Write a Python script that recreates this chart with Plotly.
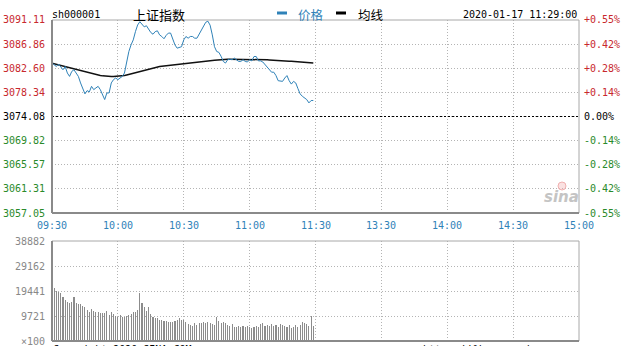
import plotly.graph_objects as go

W, H = 626, 346

# ---------------- data ----------------
tick_times = ["09:30", "10:00", "10:30", "11:00", "11:30", "13:30", "14:00", "14:30", "15:00"]
tick_minutes = [0, 30, 60, 90, 120, 150, 180, 210, 240]
price_ticks = [3091.11, 3086.86, 3082.60, 3078.34, 3074.08, 3069.82, 3065.57, 3061.31, 3057.05]
pct_ticks = ["+0.55%", "+0.42%", "+0.28%", "+0.14%", "0.00%", "-0.14%", "-0.28%", "-0.42%", "-0.55%"]
vol_ticks = [38882, 29162, 19441, 9721, 0]
vol_tick_text = ["38882", "29162", "19441", "9721", "×100"]
prev_close = 3074.08

price = [
    3083.51, 3083.21, 3082.91, 3083.33, 3082.74, 3082.33, 3082.91, 3081.75, 3081.16, 3082.03,
    3082.33, 3081.75, 3081.16, 3080.00, 3079.00, 3078.07, 3078.65, 3078.42, 3079.40, 3078.82,
    3079.12, 3079.40, 3078.82, 3077.94, 3077.07, 3078.24, 3078.24, 3080.00, 3080.58, 3080.87,
    3080.58, 3080.87, 3081.16, 3081.75, 3083.79, 3085.55, 3086.72, 3087.60, 3089.06, 3090.23,
    3090.81, 3090.35, 3089.90, 3090.10, 3089.50, 3088.90, 3088.60, 3089.06, 3089.20, 3088.48,
    3088.20, 3087.80, 3088.40, 3088.80, 3088.80, 3087.80, 3086.70, 3086.14, 3086.30, 3086.40,
    3087.60, 3088.20, 3087.90, 3088.20, 3088.20, 3087.90, 3087.90, 3088.60, 3089.06, 3089.90,
    3090.70, 3090.90, 3090.20, 3088.48, 3086.40, 3085.55, 3085.40, 3084.70, 3083.80, 3083.51,
    3084.09, 3084.20, 3084.10, 3084.38, 3084.10, 3083.80, 3083.80, 3084.10, 3083.80, 3083.70,
    3084.10, 3083.90, 3084.67, 3084.67, 3083.90, 3083.90, 3083.70, 3083.20, 3082.75, 3082.33,
    3081.90, 3081.90, 3081.30, 3080.40, 3080.40, 3080.28, 3080.87, 3081.30, 3080.40, 3079.80,
    3080.28, 3080.00, 3079.00, 3078.07, 3077.65, 3077.36, 3077.07, 3076.48, 3076.90, 3076.90,
]

avg = [
    3083.50, 3083.40, 3083.30, 3083.20, 3083.10, 3083.00, 3082.90, 3082.75, 3082.63, 3082.50,
    3082.40, 3082.30, 3082.20, 3082.10, 3082.00, 3081.90, 3081.80, 3081.70, 3081.60, 3081.50,
    3081.45, 3081.35, 3081.30, 3081.25, 3081.20, 3081.16, 3081.15, 3081.15, 3081.15, 3081.16,
    3081.18, 3081.20, 3081.25, 3081.30, 3081.40, 3081.50, 3081.60, 3081.70, 3081.80, 3081.93,
    3082.05, 3082.20, 3082.30, 3082.40, 3082.50, 3082.60, 3082.65, 3082.75, 3082.80, 3082.90,
    3082.95, 3083.00, 3083.05, 3083.10, 3083.15, 3083.20, 3083.25, 3083.30, 3083.35, 3083.40,
    3083.45, 3083.50, 3083.55, 3083.60, 3083.62, 3083.65, 3083.70, 3083.72, 3083.75, 3083.80,
    3083.85, 3083.90, 3083.93, 3083.97, 3084.00, 3084.05, 3084.08, 3084.10, 3084.13, 3084.15,
    3084.18, 3084.20, 3084.20, 3084.20, 3084.20, 3084.20, 3084.20, 3084.20, 3084.20, 3084.20,
    3084.20, 3084.20, 3084.20, 3084.18, 3084.16, 3084.14, 3084.12, 3084.10, 3084.08, 3084.06,
    3084.05, 3084.03, 3084.01, 3083.99, 3083.96, 3083.93, 3083.90, 3083.87, 3083.85, 3083.82,
    3083.80, 3083.76, 3083.72, 3083.68, 3083.64, 3083.60, 3083.57, 3083.54, 3083.52, 3083.50,
]

volume = [
    23000, 20500, 19400, 18900, 18500, 17200, 15900, 15300, 14600, 15300,
    17200, 14600, 14300, 14300, 13700, 13300, 12000, 11400, 12400, 11700,
    11100, 11400, 10800, 10800, 10800, 11700, 10100, 11100, 10600, 9800,
    9500, 10100, 9500, 9500, 9800, 10100, 10400, 11100, 11100, 12000,
    18500, 14600, 13300, 11700, 13300, 10400, 9500, 9100, 8800, 8200,
    8200, 7800, 7800, 7500, 7500, 7300, 7800, 8200, 8800, 8200,
    8100, 7260, 6480, 6220, 5960, 6870, 6220, 6870, 6870, 7260,
    6870, 7260, 6870, 6480, 6220, 9460, 7780, 6870, 7260, 6870,
    6220, 5960, 6480, 5570, 5570, 5960, 5570, 5960, 5570, 5960,
    5570, 5180, 5570, 5960, 5570, 6480, 6870, 5960, 6220, 5960,
    6480, 5960, 6220, 5570, 6480, 6220, 5960, 5570, 6220, 5180,
    5570, 6220, 5570, 6220, 7520, 7000, 6480, 5960, 9850, 5960,
]

minutes = list(range(len(price)))

# ---------------- helpers ----------------
def px(x):
    return x / W

def py(y):
    return 1 - y / H

X0, X1 = px(52), px(579)
P_BOT, P_TOP = py(213), py(20)
V_BOT, V_TOP = py(341), py(241)

MONO = "DejaVu Sans Mono"
CJK = "Noto Sans CJK SC"
RED, GREEN, BLUE = "#c8282d", "#2a8a2a", "#2f82b8"
GRID = "#b4b4b4"

fig = go.Figure()

fig.add_trace(go.Bar(x=minutes, y=volume, xaxis="x2", yaxis="y2", width=0.5,
                     marker=dict(color="#8c8c8c", line=dict(width=0)), hoverinfo="skip"))
fig.add_trace(go.Scatter(x=minutes, y=avg, mode="lines", line=dict(color="#111111", width=1.5),
                         hoverinfo="skip"))
fig.add_trace(go.Scatter(x=minutes, y=price, mode="lines", line=dict(color=BLUE, width=1),
                         hoverinfo="skip"))

axis_common = dict(showticklabels=False, ticks="", showline=False, zeroline=False,
                   showgrid=True, gridcolor=GRID, griddash="1px,2px", gridwidth=1, fixedrange=True)

fig.update_layout(
    width=W, height=H, margin=dict(l=0, r=0, t=0, b=0),
    paper_bgcolor="white", plot_bgcolor="white", showlegend=False,
    bargap=0,
    xaxis=dict(domain=[X0, X1], range=[0, 240], tickvals=tick_minutes, anchor="y", **axis_common),
    yaxis=dict(domain=[P_BOT, P_TOP], range=[price_ticks[-1], price_ticks[0]], tickvals=price_ticks,
               anchor="x", **axis_common),
    xaxis2=dict(domain=[X0, X1], range=[0, 240], tickvals=tick_minutes, anchor="y2", **axis_common),
    yaxis2=dict(domain=[V_BOT, V_TOP], range=[0, vol_ticks[0]], tickvals=vol_ticks,
                anchor="x2", **axis_common),
)

shapes = []
# previous-close dashed line
shapes.append(dict(type="line", xref="x", yref="y", x0=0, x1=240, y0=prev_close, y1=prev_close,
                   line=dict(color="#000000", width=1, dash="2px,2px")))
# borders
for b, t in [(P_BOT, P_TOP), (V_BOT, V_TOP)]:
    shapes.append(dict(type="rect", xref="paper", yref="paper", x0=X0, x1=X1, y0=b, y1=t,
                       line=dict(color="#a8a8a8", width=1)))
    shapes.append(dict(type="line", xref="paper", yref="paper", x0=X0, x1=X0, y0=b, y1=t,
                       line=dict(color="#8a8a8a", width=2)))
    shapes.append(dict(type="line", xref="paper", yref="paper", x0=X0, x1=X1, y0=b, y1=b,
                       line=dict(color="#8a8a8a", width=2)))
# legend swatches
shapes.append(dict(type="line", xref="paper", yref="paper", x0=px(277), x1=px(287), y0=py(13), y1=py(13),
                   line=dict(color=BLUE, width=3)))
shapes.append(dict(type="line", xref="paper", yref="paper", x0=px(336), x1=px(346), y0=py(13), y1=py(13),
                   line=dict(color="#000000", width=3)))
# sina logo eye
shapes.append(dict(type="circle", xref="paper", yref="paper", x0=px(558), x1=px(566), y0=py(190), y1=py(182),
                   line=dict(color="#f0b0b0", width=1), fillcolor="rgba(240,170,170,0.35)"))
fig.update_layout(shapes=shapes)

ann = []
def text(x, y, s, size=10, color="#000", family=MONO, xanchor="left", yanchor="middle",
         xref="paper", yref="paper", **kw):
    ann.append(dict(x=x, y=y, text=s, showarrow=False, xref=xref, yref=yref, xanchor=xanchor,
                    yanchor=yanchor, font=dict(size=size, color=color, family=family),
                    borderpad=0, **kw))

for i, (v, p) in enumerate(zip(price_ticks, pct_ticks)):
    c = RED if v > prev_close else (GREEN if v < prev_close else "#000000")
    text(X0, v, f"{v:.2f}", color=c, xanchor="right", yref="y", xshift=-6)
    text(X1, v, p, color=c, xanchor="left", yref="y", xshift=4)

for m, lab in zip(tick_minutes, tick_times):
    text(m, py(225.5), lab, color=BLUE, xanchor="center", xref="x")

for v, lab in zip(vol_ticks, vol_tick_text):
    text(X0, v, lab, color="#888888", xanchor="right", yref="y2", xshift=-6)

text(px(51), py(14), "sh000001")
text(px(132), py(14), "上证指数", size=13, family=CJK)
text(px(297), py(14), "价格", size=12.5, family=CJK, color=BLUE)
text(px(357), py(14), "均线", size=12.5, family=CJK)
text(px(578), py(14), "2020-01-17 11:29:00", xanchor="right")
text(px(52), py(349), "Copyright 2020 SINA.COM")
text(px(422), py(349), "https://finance.sina.com.cn")
text(px(561), py(197), "<i><b>sina</b></i>", size=15, color="#c4c4c4", family="DejaVu Sans", xanchor="center")

fig.update_layout(annotations=ann)

fig.write_html("out.html", config={"displayModeBar": False, "staticPlot": True})
